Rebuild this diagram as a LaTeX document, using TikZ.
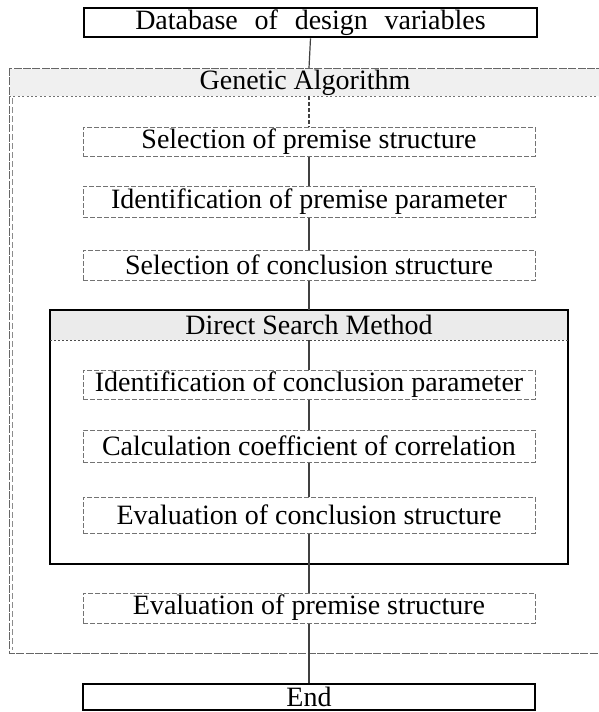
\documentclass[tikz,border=0pt]{standalone}
\usepackage{fontspec}
\setmainfont{Liberation Serif}
\tikzset{
	heavybox/.style={draw=black, line width=1.4pt, fill=white, inner sep=0pt},
	stepbox/.style={draw=black!55, line width=0.5pt, dash pattern=on 2.5pt off 1pt, fill=white, inner sep=0pt},
	flow/.style={draw=black!75, line width=0.6pt},
	txt/.style={font=\fontsize{14}{16}\selectfont}
}
\begin{document}
\begin{tikzpicture}[x=0.5pt,y=-0.5pt,txt]
	\clip (0,0) rectangle (599,712);
	\fill [white] (0,0) rectangle (599,712);
	% Genetic Algorithm frame
	\draw [black!60, line width=0.5pt, dash pattern=on 4pt off 0.7pt] (9,68) rectangle (610,653);
	\draw [black!45, line width=0.4pt, dash pattern=on 3pt off 1.5pt] (12,71) -- (12,650);
	\fill [black!6] (9.5,68.5) rectangle (610,96);
	\draw [black!55, line width=0.5pt, dash pattern=on 1pt off 1.2pt] (9,96) -- (610,96);
	\node (ga) at (305,83) {Genetic Algorithm};
	\coordinate (gatop) at (309,68);
	\coordinate (gahead) at (309,96);
	\coordinate (gabot) at (309,653);
	% Direct Search Method frame
	\draw [heavybox] (50,310) rectangle (568,564);
	\fill [black!8] (50.8,310.8) rectangle (567.2,340);
	\draw [black!70, line width=0.5pt, dash pattern=on 1pt off 1pt] (50,340) -- (568,340);
	\node (dsm) at (309,325) {Direct Search Method};
	\coordinate (dsmtop) at (309,310);
	\coordinate (dsmhead) at (309,340);
	\coordinate (dsmbot) at (309,564);
	% boxes
	\node [heavybox, minimum width=226.5pt, minimum height=14.5pt] (db) at (310.5,22.5) {Database\hspace{0.6em}of\hspace{0.6em}design\hspace{0.6em}variables};
	\node [stepbox, minimum width=226pt, minimum height=14.5pt] (selprem) at (309,141.5) {Selection of premise structure};
	\node [stepbox, minimum width=226pt, minimum height=15.5pt] (idprem) at (309,201.5) {Identification of premise parameter};
	\node [stepbox, minimum width=226pt, minimum height=15pt] (selconc) at (309,265) {Selection of conclusion structure};
	\node [stepbox, minimum width=226pt, minimum height=14.5pt] (idconc) at (309,384.5) {Identification of conclusion parameter};
	\node [stepbox, minimum width=226pt, minimum height=16pt] (calc) at (309,446) {Calculation coefficient of correlation};
	\node [stepbox, minimum width=226pt, minimum height=18pt] (evalconc) at (309,515) {Evaluation of conclusion structure};
	\node [stepbox, minimum width=226pt, minimum height=15pt] (evalprem) at (309,608) {Evaluation of premise structure};
	\node [heavybox, minimum width=226pt, minimum height=13pt] (fin) at (309,697) {End};
	% connectors
	\draw [flow] (db.south) -- (gatop);
	\draw [flow, dash pattern=on 2pt off 1pt] (gahead) -- (selprem.north);
	\draw [flow] (selprem.south) -- (idprem.north);
	\draw [flow] (idprem.south) -- (selconc.north);
	\draw [flow] (selconc.south) -- (dsmtop);
	\draw [flow] (dsmhead) -- (idconc.north);
	\draw [flow] (idconc.south) -- (calc.north);
	\draw [flow] (calc.south) -- (evalconc.north);
	\draw [flow] (evalconc.south) -- (dsmbot);
	\draw [flow] (dsmbot) -- (evalprem.north);
	\draw [flow] (evalprem.south) -- (gabot);
	\draw [flow] (gabot) -- (fin.north);
\end{tikzpicture}
\end{document}
